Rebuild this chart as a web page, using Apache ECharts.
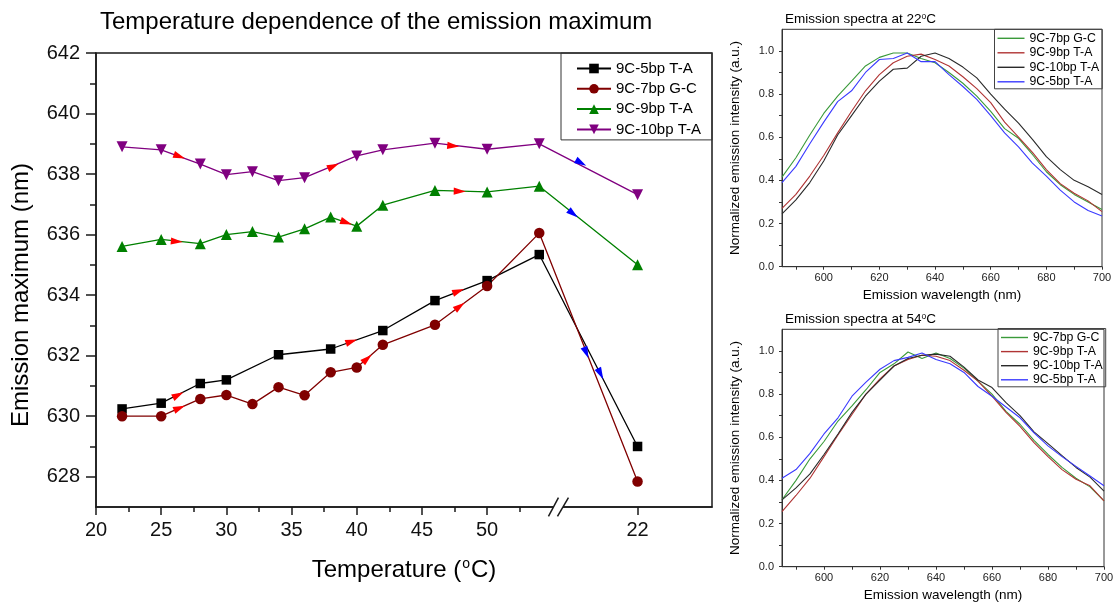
<!DOCTYPE html>
<html>
<head>
<meta charset="utf-8">
<script src="https://cdn.jsdelivr.net/npm/echarts@6/dist/echarts.min.js"></script>
<style>
  html, body { margin: 0; padding: 0; background: #fff; }
  #main { position: absolute; left: 0; top: 0; width: 715px; height: 606px; }
  #spec22 { position: absolute; left: 715px; top: 0; width: 398px; height: 303px; }
  #spec54 { position: absolute; left: 715px; top: 300px; width: 398px; height: 306px; }
</style>
</head>
<body>
<div id="main"></div>
<div id="spec22"></div>
<div id="spec54"></div>
<script>
  // ---- temperature scan (left chart) ----
  const temps = [22, 25, 28, 30, 32, 34, 36, 38, 40, 42, 46, 50, 54]
  const coolTemp = 22        // sample cooled back down after 54 C
  const coolPos = 61.54      // where that point sits on the axis (right of the break)
  const breakAt = 55.45

  const bp5 = [630.24, 630.43, 631.08, 631.2, null, 632.03, null, 632.22, null, 632.83, 633.82, 634.48, 635.34]
  const bp5Cool = 629.0
  const bp7 = [630.0, 630.0, 630.57, 630.7, 630.4, 630.96, 630.69, 631.45, 631.61, 632.36, 633.02, 634.3, 636.05]
  const bp7Cool = 627.84
  const bp9 = [635.61, 635.84, 635.7, 636.0, 636.1, 635.92, 636.19, 636.58, 636.28, 636.97, 637.46, 637.41, 637.6]
  const bp9Cool = 635.0
  const bp10 = [638.9, 638.8, 638.33, 637.98, 638.08, 637.78, 637.88, null, 638.6, 638.8, 639.02, 638.82, 639.0]
  const bp10Cool = 637.32

  const xTickLabels = [20, 25, 30, 35, 40, 45, 50]
  const yTickLabels = [628, 630, 632, 634, 636, 638, 640, 642]

  // direction arrows: [x, y, heading towards temperature ('cool' = cooled point)]
  const heat5 = [[26.3, 630.7, 28], [39.6, 632.47, 42], [47.8, 634.13, 50]]
  const heat7 = [[26.4, 630.27, 28], [40.8, 631.9, 42], [47.9, 633.63, 50]]
  const heat9 = [[26.2, 635.77, 28], [39.2, 636.4, 40], [47.9, 637.43, 50]]
  const heat10 = [[26.4, 638.58, 28], [38.2, 638.26, 40], [47.4, 638.93, 50]]
  const cool5 = [[58.7, 631.4, 'cool']]
  const cool7 = [[57.6, 632.1, 'cool']]
  const cool9 = [[56.6, 636.69, 'cool']]
  const cool10 = [[57.2, 638.37, 'cool']]

  // ---- emission spectra (right charts) ----
  const wavelengths = [585, 590, 595, 600, 605, 610, 615, 620, 625, 630, 635, 640,
    645, 650, 655, 660, 665, 670, 675, 680, 685, 690, 695, 700]

  const s22_7gc = [0.415, 0.505, 0.61, 0.71, 0.79, 0.86, 0.93, 0.97, 0.99, 0.99, 0.965, 0.945,
    0.90, 0.85, 0.79, 0.72, 0.64, 0.595, 0.52, 0.44, 0.38, 0.335, 0.30, 0.265]
  const s22_9ta = [0.27, 0.335, 0.42, 0.515, 0.62, 0.72, 0.815, 0.89, 0.945, 0.975, 0.985, 0.96,
    0.93, 0.88, 0.825, 0.76, 0.67, 0.60, 0.53, 0.45, 0.385, 0.34, 0.305, 0.255]
  const s22_10ta = [0.245, 0.31, 0.39, 0.49, 0.61, 0.70, 0.79, 0.86, 0.915, 0.92, 0.975, 0.99,
    0.965, 0.925, 0.875, 0.80, 0.73, 0.665, 0.59, 0.51, 0.45, 0.40, 0.37, 0.335]
  const s22_5ta = [0.39, 0.465, 0.57, 0.67, 0.765, 0.815, 0.90, 0.96, 0.965, 0.99, 0.95, 0.95,
    0.89, 0.835, 0.775, 0.70, 0.62, 0.555, 0.48, 0.42, 0.355, 0.30, 0.26, 0.235]

  const s54_7gc = [0.31, 0.40, 0.50, 0.58, 0.675, 0.745, 0.82, 0.90, 0.94, 0.995, 0.965, 0.99,
    0.965, 0.92, 0.86, 0.80, 0.72, 0.66, 0.585, 0.52, 0.46, 0.41, 0.37, 0.305]
  const s54_9ta = [0.255, 0.33, 0.41, 0.51, 0.61, 0.705, 0.80, 0.87, 0.93, 0.96, 0.98, 0.975,
    0.955, 0.91, 0.86, 0.79, 0.715, 0.65, 0.575, 0.51, 0.45, 0.405, 0.375, 0.305]
  const s54_10ta = [0.31, 0.365, 0.43, 0.52, 0.615, 0.715, 0.80, 0.865, 0.93, 0.965, 0.98, 0.985,
    0.975, 0.925, 0.865, 0.83, 0.76, 0.70, 0.625, 0.57, 0.515, 0.46, 0.415, 0.35]
  const s54_5ta = [0.41, 0.45, 0.525, 0.615, 0.69, 0.79, 0.855, 0.915, 0.955, 0.97, 0.99, 0.96,
    0.94, 0.90, 0.835, 0.79, 0.74, 0.69, 0.62, 0.56, 0.51, 0.465, 0.42, 0.375]

  const font = 'Liberation Sans, Arial, sans-serif'

  function scanPoints(vals, cool) {
    const pts = temps.map((t, i) => [t, vals[i]])
    pts.push([coolPos, cool])
    return pts
  }

  function arrowRows(list, vals, cool) {
    return list.map(a => {
      const to = a[2] === 'cool' ? [coolPos, cool] : [a[2], vals[temps.indexOf(a[2])]]
      return [a[0], a[1], to[0], to[1]]
    })
  }

  function renderArrow(params, api) {
    const p = api.coord([api.value(0), api.value(1)])
    const q = api.coord([api.value(2), api.value(3)])
    const ang = Math.atan2(q[1] - p[1], q[0] - p[0])
    const c = Math.cos(ang), s = Math.sin(ang)
    const L = 12, W = 3.6
    const tip = [p[0] + c * L / 2, p[1] + s * L / 2]
    const b1 = [p[0] - c * L / 2 - s * W, p[1] - s * L / 2 + c * W]
    const b2 = [p[0] - c * L / 2 + s * W, p[1] - s * L / 2 - c * W]
    return {
      type: 'polygon',
      shape: { points: [tip, b1, b2] },
      style: { fill: api.visual('color') }
    }
  }

  function scanLine(name, color, vals, cool, symbol, size, rotate) {
    return {
      name: name,
      type: 'line',
      data: scanPoints(vals, cool),
      connectNulls: true,
      symbol: symbol,
      symbolSize: size,
      symbolRotate: rotate || 0,
      showAllSymbol: true,
      color: color,
      lineStyle: { color: color, width: 1.3 },
      itemStyle: { color: color },
      z: 3,
      animation: false
    }
  }

  const axisColor = '#1a1a1a'
  const minorX = [22.5, 27.5, 32.5, 37.5, 42.5, 47.5, 52.5]
  const minorY = [629, 631, 633, 635, 637, 639, 641]

  const mainChart = echarts.init(document.getElementById('main'))
  mainChart.setOption({
    animation: false,
    textStyle: { fontFamily: font },
    title: {
      text: 'Temperature dependence of the emission maximum',
      left: 100, top: 10, padding: 0,
      textStyle: { fontFamily: font, fontSize: 24, fontWeight: 'normal', color: '#000' }
    },
    legend: {
      orient: 'vertical',
      left: 561, top: 53,
      padding: [8, 11, 3, 15],
      itemWidth: 34, itemHeight: 12, itemGap: 5.3,
      borderColor: '#333', borderWidth: 1,
      textStyle: { fontFamily: font, fontSize: 15, color: '#000', lineHeight: 14 },
      data: ['9C-5bp T-A', '9C-7bp G-C', '9C-9bp T-A', '9C-10bp T-A']
    },
    grid: {
      left: 96, top: 53, width: 616, height: 454,
      show: true, borderColor: axisColor, borderWidth: 1.5,
      outerBoundsMode: 'none'
    },
    xAxis: [{
      type: 'value', min: 20, max: 67.25,
      name: 'Temperature ({sup|o}C)',
      nameLocation: 'middle', nameGap: 50,
      nameTextStyle: {
        fontFamily: font, fontSize: 24, color: '#000',
        rich: { sup: { fontSize: 14, verticalAlign: 'top', padding: [0, 1, 12, 1], fontFamily: font, color: '#000' } }
      },
      axisLine: { lineStyle: { color: axisColor, width: 1.5 } },
      axisTick: { customValues: xTickLabels.concat([coolPos]), length: 8, lineStyle: { color: axisColor, width: 1.5 } },
      axisLabel: {
        customValues: xTickLabels.concat([coolPos]),
        formatter: v => (v > breakAt ? String(coolTemp) : String(v)),
        fontFamily: font, fontSize: 20, color: '#111', margin: 13
      },
      splitLine: { show: false }
    }, {
      type: 'value', min: 20, max: 67.25, position: 'bottom',
      axisLine: { show: false },
      axisTick: { customValues: minorX, length: 5, lineStyle: { color: axisColor, width: 1.5 } },
      axisLabel: { show: false },
      splitLine: { show: false }
    }],
    yAxis: [{
      type: 'value', min: 627, max: 642,
      name: 'Emission maximum (nm)',
      nameLocation: 'middle', nameGap: 63,
      nameTextStyle: { fontFamily: font, fontSize: 24, color: '#000', padding: [0, 30, 0, 0] },
      axisLine: { show: true, lineStyle: { color: axisColor, width: 1.5 } },
      axisTick: { show: true, customValues: yTickLabels, length: 10, lineStyle: { color: axisColor, width: 1.5 } },
      axisLabel: { customValues: yTickLabels, fontFamily: font, fontSize: 20, color: '#111', margin: 16 },
      splitLine: { show: false }
    }, {
      type: 'value', min: 627, max: 642, position: 'left',
      axisLine: { show: false },
      axisTick: { show: true, customValues: minorY, length: 6, lineStyle: { color: axisColor, width: 1.5 } },
      axisLabel: { show: false },
      splitLine: { show: false }
    }],
    series: [
      scanLine('9C-5bp T-A', '#000000', bp5, bp5Cool, 'rect', 9.5),
      scanLine('9C-7bp G-C', '#800000', bp7, bp7Cool, 'circle', 10.5),
      scanLine('9C-9bp T-A', '#008000', bp9, bp9Cool, 'triangle', 11),
      scanLine('9C-10bp T-A', '#800080', bp10, bp10Cool, 'triangle', 11, 180),
      {
        type: 'custom', name: 'heating', renderItem: renderArrow, clip: false, z: 5,
        itemStyle: { color: '#ff0000' },
        data: [].concat(arrowRows(heat5, bp5, bp5Cool), arrowRows(heat7, bp7, bp7Cool),
          arrowRows(heat9, bp9, bp9Cool), arrowRows(heat10, bp10, bp10Cool))
      },
      {
        type: 'custom', name: 'cooling', renderItem: renderArrow, clip: false, z: 5,
        itemStyle: { color: '#0000ff' },
        data: [].concat(arrowRows(cool5, bp5, bp5Cool), arrowRows(cool7, bp7, bp7Cool),
          arrowRows(cool9, bp9, bp9Cool), arrowRows(cool10, bp10, bp10Cool))
      }
    ]
  })

  // axis break "//" drawn where the break value falls on the x axis
  const bx = mainChart.convertToPixel({ xAxisIndex: 0 }, breakAt)
  const by = mainChart.convertToPixel({ yAxisIndex: 0 }, 627)
  mainChart.setOption({
    graphic: [
      { type: 'rect', shape: { x: bx - 4.7, y: by - 2, width: 9.5, height: 4 }, style: { fill: '#fff' }, z: 100 },
      { type: 'line', shape: { x1: bx - 9.7, y1: by + 9.3, x2: bx + 0.3, y2: by - 9.4 }, style: { stroke: axisColor, lineWidth: 1.5 }, z: 101 },
      { type: 'line', shape: { x1: bx - 0.7, y1: by + 9.3, x2: bx + 10.3, y2: by - 9.4 }, style: { stroke: axisColor, lineWidth: 1.5 }, z: 101 }
    ]
  })

  // ---- small spectrum panels ----
  const specColors = { gc7: '#3a9a3a', ta9: '#b03434', ta10: '#2a2a2a', ta5: '#3a3aff' }
  const specXLabels = [600, 620, 640, 660, 680, 700]
  const specXTicks = [590, 600, 610, 620, 630, 640, 650, 660, 670, 680, 690, 700]
  const specYLabels = [0, 0.2, 0.4, 0.6, 0.8, 1.0]
  const specYTicks = [0, 0.1, 0.2, 0.3, 0.4, 0.5, 0.6, 0.7, 0.8, 0.9, 1.0]

  function specLine(name, color, vals) {
    return {
      name: name, type: 'line', symbol: 'none', color: color,
      lineStyle: { color: color, width: 1.1 },
      data: wavelengths.map((w, i) => [w, vals[i]])
    }
  }

  function spectrumOption(temp, gridW, legendLeft, legendTop, legendGap, lines) {
    const lbl = { fontFamily: font, fontSize: 11, color: '#222' }
    return {
      animation: false,
      title: {
        text: 'Emission spectra at ' + temp + '{sup|o}C',
        left: 70, top: 12, padding: 0,
        textStyle: {
          fontFamily: font, fontSize: 13.5, fontWeight: 'normal', color: '#000',
          rich: { sup: { fontSize: 8.5, verticalAlign: 'top', fontFamily: font, color: '#000' } }
        }
      },
      legend: {
        orient: 'vertical', left: legendLeft, top: legendTop,
        padding: [3, 3, 1, 3],
        icon: 'rect',
        itemWidth: 27, itemHeight: 1.4, itemGap: legendGap,
        borderColor: '#444', borderWidth: 1,
        textStyle: { fontFamily: font, fontSize: 12.3, color: '#000', lineHeight: 12 },
        data: lines.map(l => l.name)
      },
      grid: {
        left: 67, top: 29.3, width: gridW, height: 237.4,
        show: true, borderColor: '#333', borderWidth: 1,
        outerBoundsMode: 'none'
      },
      xAxis: {
        type: 'value', min: 585, max: 700,
        name: 'Emission wavelength (nm)', nameLocation: 'middle', nameGap: 22,
        nameTextStyle: { fontFamily: font, fontSize: 13.5, color: '#000' },
        axisLine: { lineStyle: { color: '#333' } },
        axisTick: { customValues: specXTicks, length: 3, lineStyle: { color: '#333' } },
        axisLabel: Object.assign({ customValues: specXLabels, margin: 6 }, lbl),
        splitLine: { show: false }
      },
      yAxis: {
        type: 'value', min: 0, max: 1.1,
        name: 'Normalized emission intensity (a.u.)', nameLocation: 'middle', nameGap: 40,
        nameTextStyle: { fontFamily: font, fontSize: 13.5, color: '#000' },
        axisLine: { show: true, lineStyle: { color: '#333' } },
        axisTick: { show: true, customValues: specYTicks, length: 3, lineStyle: { color: '#333' } },
        axisLabel: Object.assign({ customValues: specYLabels, margin: 8, formatter: v => v.toFixed(1) }, lbl),
        splitLine: { show: false }
      },
      series: lines
    }
  }

  echarts.init(document.getElementById('spec22')).setOption(spectrumOption(22, 320, 279.5, 29.3, 2.5, [
    specLine('9C-7bp G-C', specColors.gc7, s22_7gc),
    specLine('9C-9bp T-A', specColors.ta9, s22_9ta),
    specLine('9C-10bp T-A', specColors.ta10, s22_10ta),
    specLine('9C-5bp T-A', specColors.ta5, s22_5ta)
  ]))

  echarts.init(document.getElementById('spec54')).setOption(spectrumOption(54, 322, 283, 28.5, 2.1, [
    specLine('9C-7bp G-C', specColors.gc7, s54_7gc),
    specLine('9C-9bp T-A', specColors.ta9, s54_9ta),
    specLine('9C-10bp T-A', specColors.ta10, s54_10ta),
    specLine('9C-5bp T-A', specColors.ta5, s54_5ta)
  ]))
</script>
</body>
</html>
